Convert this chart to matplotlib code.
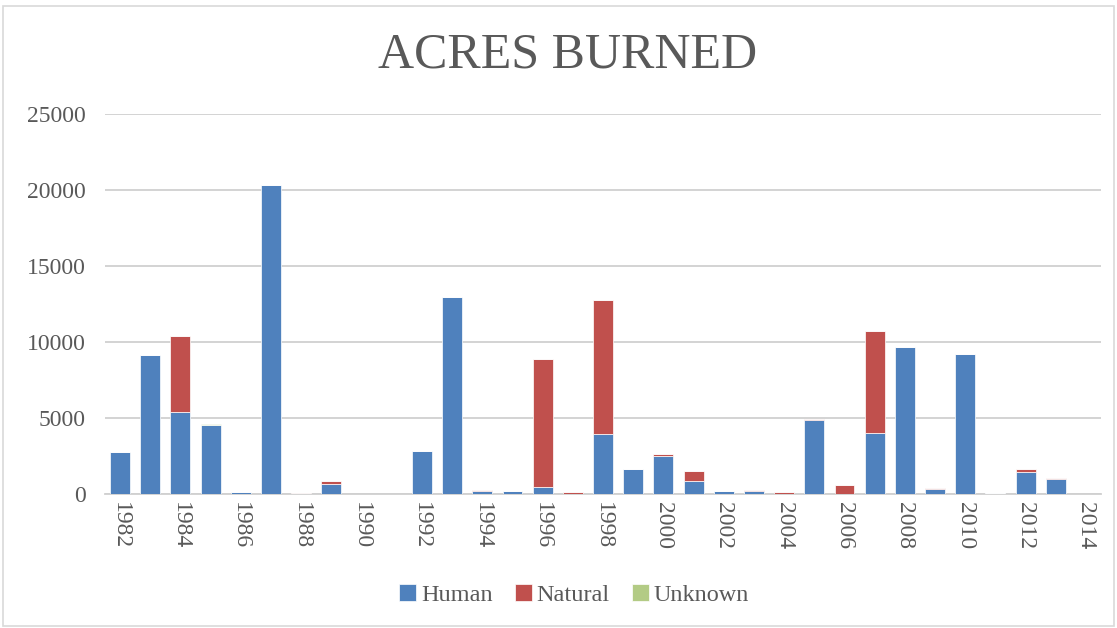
import numpy as np
import matplotlib.pyplot as plt
from matplotlib.patches import Rectangle

years = list(range(1982, 2015))
human = [2780, 9150, 5400, 4540, 100, 20350, 0, 660, 0, 0,
         2850, 12980, 200, 170, 460, 0, 3970, 1640, 2520, 875,
         180, 220, 0, 4900, 30, 3990, 9670, 330, 9210, 70,
         1425, 965, 0]
natural = [0, 0, 5000, 0, 0, 0, 50, 175, 0, 0,
           0, 0, 60, 50, 8420, 130, 8790, 20, 130, 615,
           40, 50, 130, 40, 580, 6730, 0, 65, 0, 0,
           220, 105, 20]
unknown = [0, 0, 0, 50, 0, 0, 0, 0, 0, 0,
           0, 0, 0, 0, 0, 0, 0, 0, 0, 0,
           0, 0, 0, 0, 0, 0, 0, 0, 0, 0,
           0, 0, 0]

c_human = '#4F81BD'
c_natural = '#C0504D'
c_unknown = '#B3CB85'
txt = '#595959'

plt.rcParams['font.family'] = ['Liberation Serif', 'DejaVu Serif']

fig = plt.figure(figsize=(11.17, 6.28), dpi=100)
ax = fig.add_axes([0.094, 0.2134, 0.8917, 0.6051])

x = np.arange(len(years))
h = np.array(human)
n = np.array(natural)
u = np.array(unknown)
w = 0.66
ax.bar(x, h, w, color=c_human, edgecolor='white', linewidth=0.5, label='Human', zorder=3)
ax.bar(x, n, w, bottom=h, color=c_natural, edgecolor='white', linewidth=0.5, label='Natural', zorder=3)
ax.bar(x, u, w, bottom=h + n, color=c_unknown, edgecolor='white', linewidth=0.5, label='Unknown', zorder=3)

ax.set_xlim(-0.5, len(years) - 0.5)
ax.set_ylim(0, 25000)
ax.set_yticks(range(0, 25001, 5000))
ax.yaxis.grid(True, color='#d0d0d0', linewidth=1.3, zorder=0)
ax.tick_params(axis='y', length=0, labelsize=17, labelcolor=txt, pad=14)
ax.set_xticks(x[::2])
ax.set_xticklabels([str(y) for y in years[::2]], rotation=270, fontsize=17, color=txt)
ax.tick_params(axis='x', length=0, pad=6)
for s in ['top', 'right', 'left']:
    ax.spines[s].set_visible(False)
ax.spines['bottom'].set_color('#d0d0d0')
ax.spines['bottom'].set_linewidth(1.3)

fig.text(0.508, 0.912, 'ACRES BURNED', ha='center', va='center', fontsize=36, color=txt)

leg = fig.legend(loc='center', bbox_to_anchor=(0.514, 0.052), ncol=3, frameon=False,
                 fontsize=17.5, handlelength=0.7, handleheight=0.7, handletextpad=0.2,
                 columnspacing=0.9)
for t in leg.get_texts():
    t.set_color(txt)

fig.patches.append(Rectangle((0.003, 0.003), 0.994, 0.988, transform=fig.transFigure,
                             fill=False, edgecolor='#d9d9d9', linewidth=1.2))

fig.savefig('out.png', dpi=100)
